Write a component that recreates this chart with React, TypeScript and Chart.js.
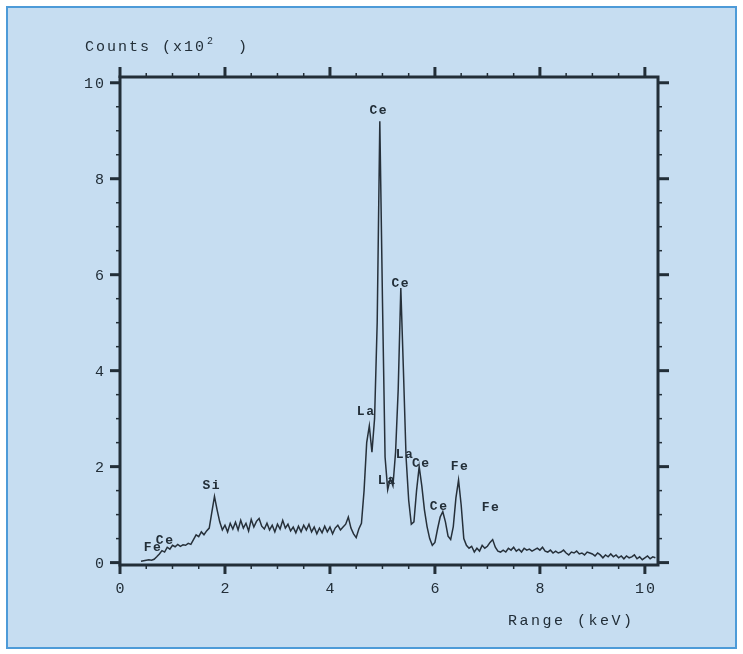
import React, { useEffect, useRef } from "react";
import { Chart, registerables } from "chart.js";

Chart.register(...registerables);

// EDS spectrum: channel energies (keV) start and width
const CHANNEL_START_KEV = 0.4;
const CHANNEL_WIDTH_KEV = 0.05;

// Counts (x10^2) per channel
const counts: number[] = [
  // 0.40 - 0.95
  0.03, 0.04, 0.05, 0.06, 0.05, 0.07, 0.12, 0.18, 0.25, 0.22, 0.32, 0.28,
  // 1.00 - 1.95
  0.36, 0.33, 0.38, 0.34, 0.37, 0.36, 0.40, 0.38, 0.48, 0.58, 0.54, 0.64, 0.58, 0.66, 0.72, 1.05, 1.38, 1.10, 0.85, 0.68,
  // 2.00 - 2.95
  0.78, 0.64, 0.82, 0.70, 0.84, 0.68, 0.88, 0.72, 0.82, 0.66, 0.90, 0.74, 0.86, 0.92, 0.76, 0.70, 0.82, 0.68, 0.78, 0.64,
  // 3.00 - 3.95
  0.80, 0.70, 0.88, 0.72, 0.80, 0.66, 0.74, 0.62, 0.76, 0.64, 0.78, 0.68, 0.80, 0.64, 0.74, 0.60, 0.72, 0.62, 0.76, 0.64,
  // 4.00 - 4.95
  0.74, 0.60, 0.72, 0.78, 0.68, 0.74, 0.80, 0.95, 0.72, 0.60, 0.52, 0.70, 0.82, 1.50, 2.50, 2.85, 2.30, 3.00, 5.00, 9.20,
  // 5.00 - 5.95
  5.50, 2.20, 1.52, 1.75, 1.60, 2.30, 3.60, 5.72, 4.00, 2.20, 1.30, 0.80, 0.85, 1.50, 2.00, 1.60, 1.10, 0.75, 0.50, 0.36,
  // 6.00 - 6.95
  0.42, 0.70, 0.95, 1.06, 0.85, 0.55, 0.48, 0.75, 1.35, 1.72, 1.20, 0.50, 0.36, 0.30, 0.34, 0.22, 0.30, 0.24, 0.36, 0.30,
  // 7.00 - 7.95
  0.34, 0.42, 0.48, 0.32, 0.24, 0.22, 0.26, 0.22, 0.30, 0.26, 0.32, 0.24, 0.28, 0.22, 0.30, 0.26, 0.28, 0.24, 0.27, 0.30,
  // 8.00 - 8.95
  0.26, 0.32, 0.24, 0.22, 0.26, 0.20, 0.24, 0.20, 0.22, 0.26, 0.20, 0.16, 0.22, 0.20, 0.24, 0.18, 0.20, 0.16, 0.22, 0.20,
  // 9.00 - 9.95
  0.18, 0.14, 0.20, 0.16, 0.10, 0.16, 0.12, 0.18, 0.12, 0.16, 0.10, 0.14, 0.08, 0.14, 0.10, 0.12, 0.16, 0.08, 0.12, 0.06,
  // 10.00 - 10.20
  0.10, 0.14, 0.08, 0.12, 0.10,
];

const xTickValues = [0, 2, 4, 6, 8, 10];
const xTickLabels = ["0", "2", "4", "6", "8", "10"];
const yTickValues = [0, 2, 4, 6, 8, 10];
const yTickLabels = ["0", "2", "4", "6", "8", "10"];
const minorStep = 0.5;

const peakNames = ["Ce", "Ce", "La", "La", "Ce", "La", "Fe", "Ce", "Fe", "Si", "Ce", "Fe"];
const peakEnergies = [4.93, 5.35, 4.69, 5.43, 5.74, 5.09, 6.48, 6.08, 7.07, 1.75, 0.86, 0.63];
const peakHeights = [9.42, 5.82, 3.15, 2.25, 2.07, 1.71, 1.99, 1.17, 1.15, 1.61, 0.46, 0.30];

const yTitleMain = "Counts (x10";
const yTitleSup = "2";
const yTitleEnd = ")";
const xTitle = "Range (keV)";

const X_MIN = 0;
const X_MAX = 10.25;
const Y_MIN = -0.05;
const Y_MAX = 10.12;

const INK = "#222e38";
const BG = "#c6ddf1";
const FONT = '"Liberation Mono", "DejaVu Sans Mono", monospace';

const framePlugin = {
  id: "framePlugin",
  beforeDraw(chart: any) {
    const ctx = chart.ctx as CanvasRenderingContext2D;
    const w = chart.width;
    const h = chart.height;
    ctx.save();
    ctx.fillStyle = "#ffffff";
    ctx.fillRect(0, 0, w, h);
    ctx.fillStyle = BG;
    ctx.fillRect(7, 7, w - 14, h - 13);
    ctx.strokeStyle = "#4d9bd8";
    ctx.lineWidth = 2;
    ctx.strokeRect(7, 7, w - 14, h - 13);
    ctx.restore();
  },
  afterDraw(chart: any) {
    const ctx = chart.ctx as CanvasRenderingContext2D;
    const xs = chart.scales.x;
    const ys = chart.scales.y;
    const { left, right, top, bottom } = chart.chartArea;
    ctx.save();
    ctx.strokeStyle = INK;
    ctx.fillStyle = INK;
    ctx.lineCap = "butt";

    // frame
    ctx.lineWidth = 3;
    ctx.strokeRect(left, top, right - left, bottom - top);

    const line = (x1: number, y1: number, x2: number, y2: number, lw: number) => {
      ctx.lineWidth = lw;
      ctx.beginPath();
      ctx.moveTo(x1, y1);
      ctx.lineTo(x2, y2);
      ctx.stroke();
    };

    // minor ticks
    for (let v = 0; v <= 10.001; v += minorStep) {
      const isMajor = Math.abs(v / 2 - Math.round(v / 2)) < 1e-6;
      if (isMajor) continue;
      const px = xs.getPixelForValue(v);
      line(px, top, px, top - 4, 1.5);
      line(px, bottom, px, bottom + 4, 1.5);
      const py = ys.getPixelForValue(v);
      line(left, py, left - 4, py, 1.5);
      line(right, py, right + 4, py, 1.5);
    }
    // major ticks
    xTickValues.forEach((v) => {
      const px = xs.getPixelForValue(v);
      line(px, top + 1, px, top - 10, 3);
      line(px, bottom - 1, px, bottom + 9, 3);
    });
    yTickValues.forEach((v) => {
      const py = ys.getPixelForValue(v);
      line(left + 1, py, left - 10, py, 3);
      line(right - 1, py, right + 11, py, 3);
    });

    // tick labels
    ctx.font = `15px ${FONT}`;
    (ctx as any).letterSpacing = "2px";
    ctx.textBaseline = "middle";
    ctx.textAlign = "right";
    yTickValues.forEach((v, i) => {
      ctx.fillText(yTickLabels[i], left - 14, ys.getPixelForValue(v) + 1);
    });
    ctx.textAlign = "center";
    xTickValues.forEach((v, i) => {
      ctx.fillText(xTickLabels[i], xs.getPixelForValue(v) + 1, bottom + 24);
    });

    // axis titles
    ctx.textAlign = "left";
    ctx.font = `15px ${FONT}`;
    (ctx as any).letterSpacing = "2px";
    ctx.fillText(yTitleMain, 85, 47);
    const wMain = ctx.measureText(yTitleMain).width;
    ctx.font = `10px ${FONT}`;
    ctx.fillText(yTitleSup, 85 + wMain + 1, 41);
    ctx.font = `15px ${FONT}`;
    ctx.fillText(yTitleEnd, 238, 47);
    (ctx as any).letterSpacing = "2.5px";
    ctx.fillText(xTitle, 508, 621);

    // peak labels
    ctx.font = `bold 13px ${FONT}`;
    (ctx as any).letterSpacing = "1.5px";
    ctx.textAlign = "center";
    peakNames.forEach((name, i) => {
      ctx.fillText(name, xs.getPixelForValue(peakEnergies[i]), ys.getPixelForValue(peakHeights[i]));
    });
    ctx.restore();
  },
};

export default function App() {
  const canvasRef = useRef<HTMLCanvasElement | null>(null);

  useEffect(() => {
    document.body.style.margin = "0";
    const canvas = canvasRef.current;
    if (!canvas) return;
    const points = counts.map((c, i) => ({ x: CHANNEL_START_KEV + i * CHANNEL_WIDTH_KEV, y: c }));
    const chart = new Chart(canvas, {
      type: "line",
      data: {
        datasets: [
          {
            data: points,
            borderColor: "#26303a",
            borderWidth: 1.5,
            pointRadius: 0,
            tension: 0,
            fill: false,
          },
        ],
      },
      options: {
        animation: false,
        responsive: false,
        devicePixelRatio: 1,
        layout: { padding: { left: 120, right: 85, top: 77, bottom: 89 } },
        plugins: { legend: { display: false }, tooltip: { enabled: false } },
        scales: {
          x: { type: "linear", min: X_MIN, max: X_MAX, display: false },
          y: { type: "linear", min: Y_MIN, max: Y_MAX, display: false },
        },
      },
      plugins: [framePlugin],
    });
    return () => chart.destroy();
  }, []);

  return (
    <div style={{ width: 743, height: 654 }}>
      <canvas ref={canvasRef} width={743} height={654} style={{ display: "block", width: 743, height: 654 }} />
    </div>
  );
}
